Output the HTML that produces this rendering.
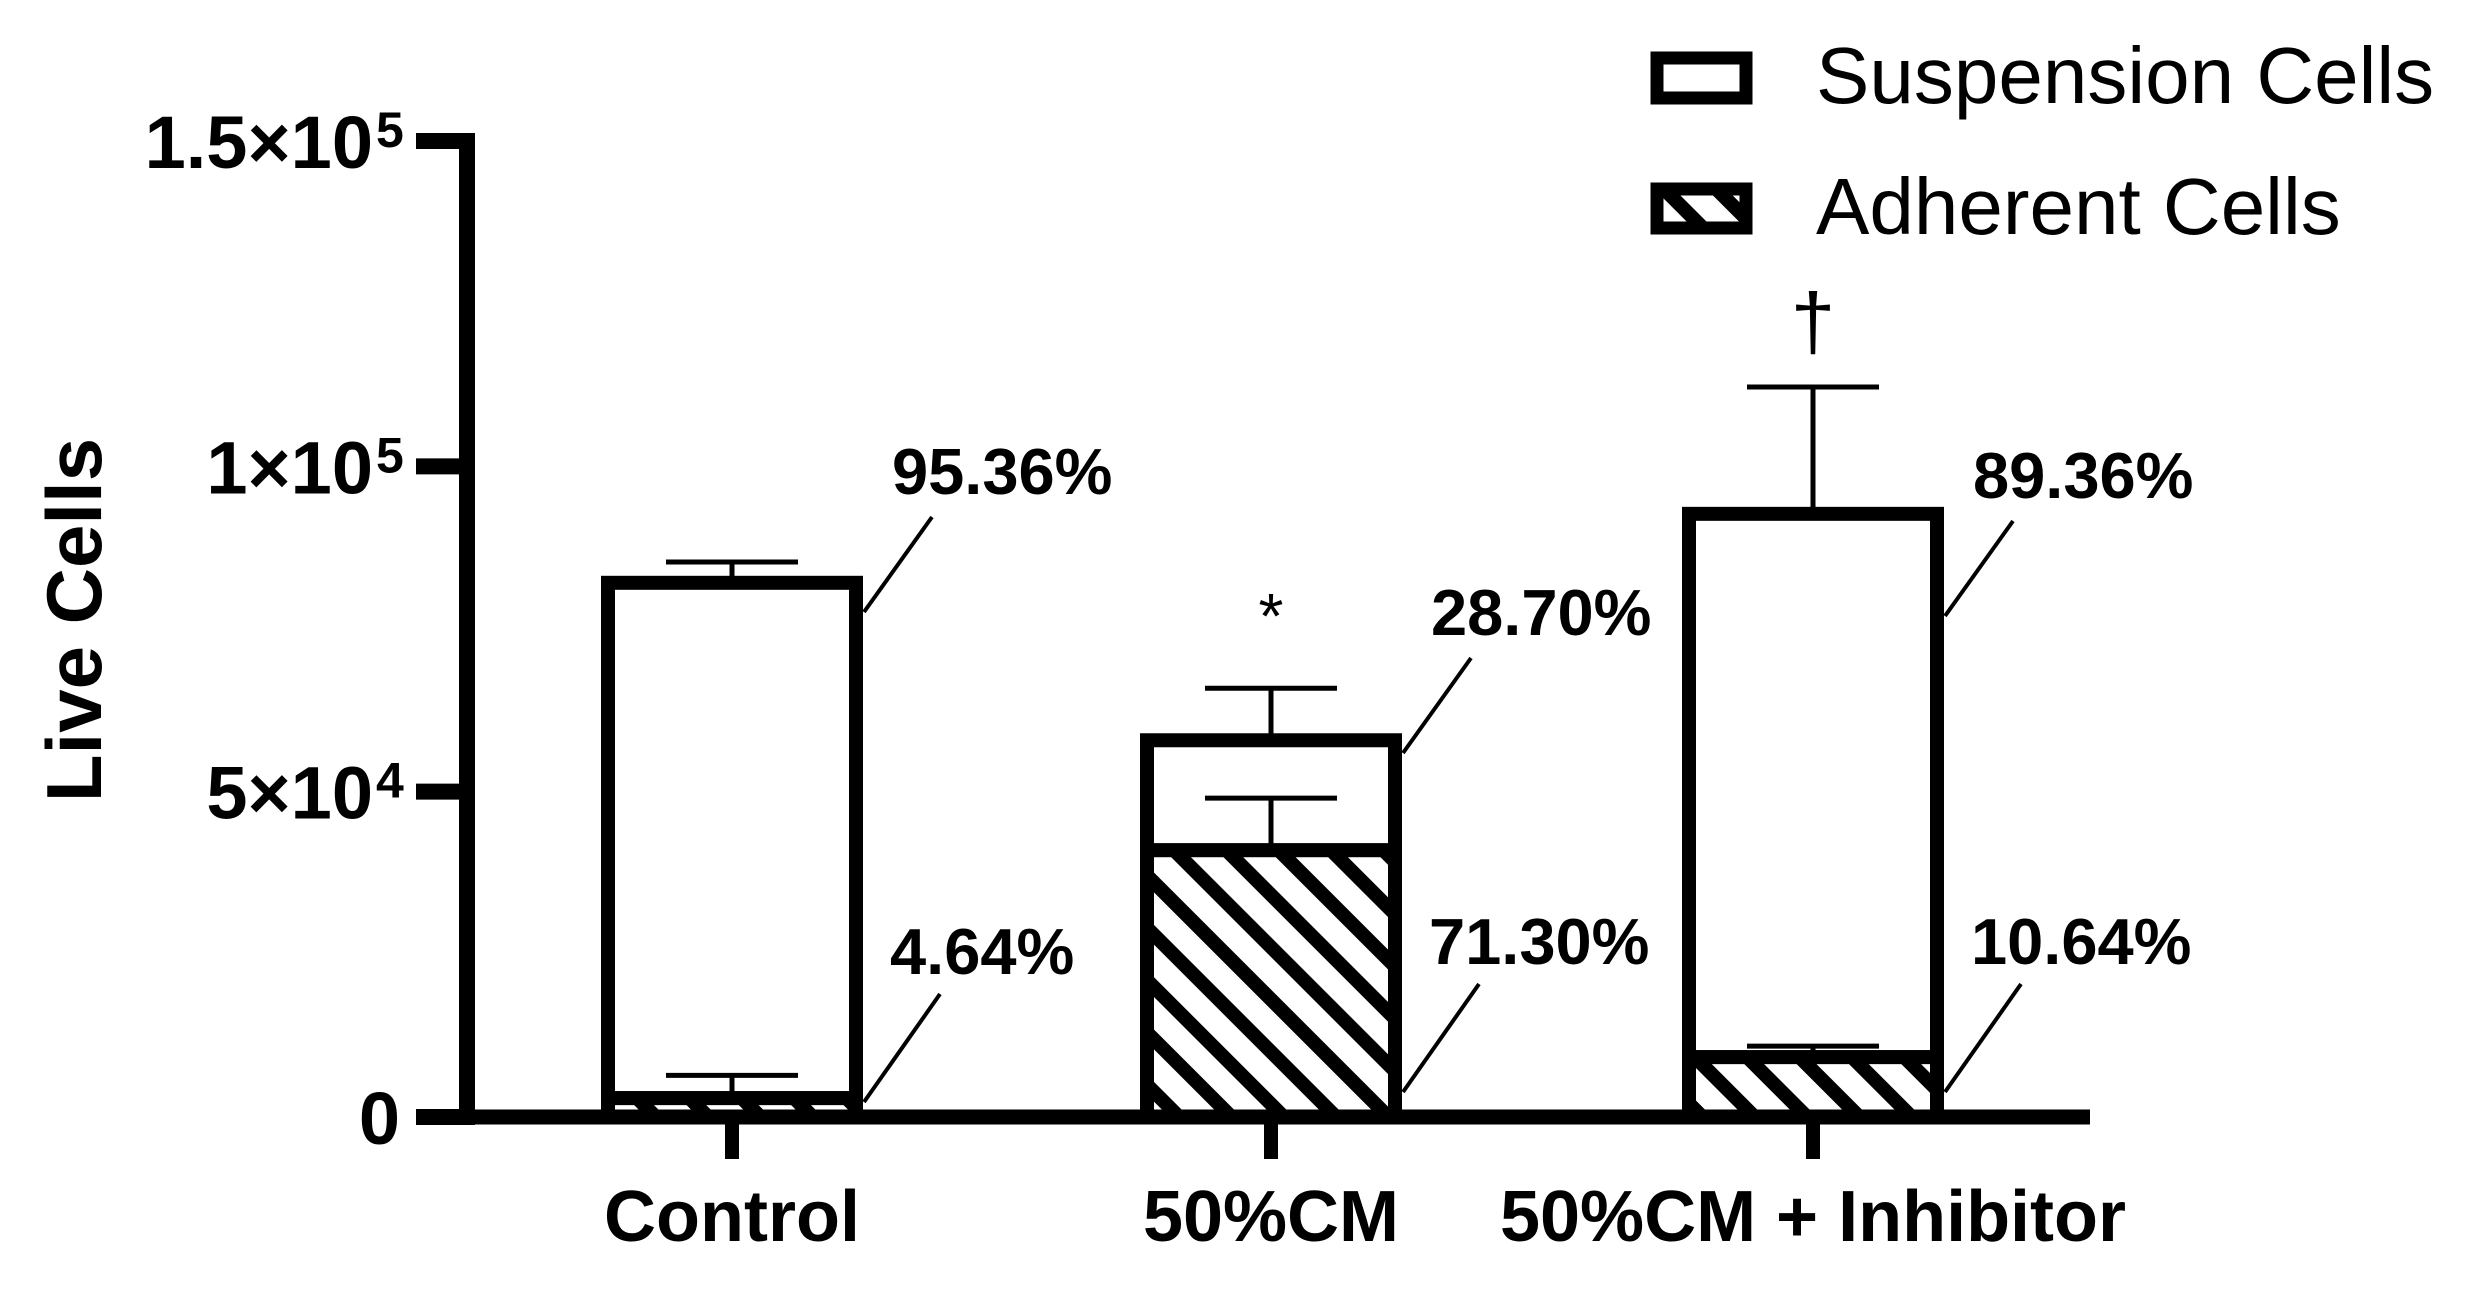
<!DOCTYPE html>
<html><head><meta charset="utf-8"><style>
html,body{margin:0;padding:0;background:#fff;}
svg{display:block;font-family:"Liberation Sans",Arial,sans-serif;}
</style></head><body>
<svg id="chart" width="2484" height="1297" viewBox="0 0 2484 1297">
<defs>
<pattern id="hatch" patternUnits="userSpaceOnUse" width="37" height="37" patternTransform="rotate(-45)">
<rect width="37" height="37" fill="#fff"/>
<rect x="0" y="0" width="14" height="37" fill="#000"/>
</pattern>
</defs>
</svg>
<script>
const categories = ["Control", "50%CM", "50%CM + Inhibitor"];
const adherent = [2900, 41000, 9200];
const adherentErr = [3500, 8000, 1700];
const suspension = [79200, 16900, 83500];
const totalErr = [3200, 8000, 19500];
const suspPct = ["95.36%", "28.70%", "89.36%"];
const adhPct = ["4.64%", "71.30%", "10.64%"];
const yTicks = [0, 50000, 100000, 150000];
const yTickBase = ["0", "5×10", "1×10", "1.5×10"];
const yTickExp = ["", "4", "5", "5"];
const marks = ["", "*", "†"];

const svg = document.getElementById('chart');
const NS = 'http://www.w3.org/2000/svg';
function mk(tag, attrs, parent){const e=document.createElementNS(NS,tag);for(const k in attrs)e.setAttribute(k,attrs[k]);(parent||svg).appendChild(e);return e;}
const y0=1117, yTop=141, yMax=150000;
function y(v){return y0-(v/yMax)*(y0-yTop);}
const xCenters=[732,1271,1813];
function x(i){return xCenters[i];}
const barW=248, capW=132;
// annotation leader start heights (layout, px)
const LEADER_SUSP_Y=[612,753,616];
const LEADER_ADH_Y=[1102,1092,1092];

let t=mk('text',{x:0,y:0,'font-size':78,'font-weight':'bold','text-anchor':'middle',transform:'translate(101,620) rotate(-90)'});
t.textContent='Live Cells';



yTicks.forEach((v,i)=>{
  const yy=y(v);
  const l=mk('line',{x1:416,x2:468,y1:yy,y2:yy,stroke:'#000','stroke-width':16});
  
  
  const tx=mk('text',{x:yTickExp[i]?373:400,y:yy+27,'font-size':74,'font-weight':'bold','text-anchor':'end'});
  tx.textContent=yTickBase[i];
  
  
  if(yTickExp[i]){
    const s=mk('text',{x:376,y:yy+6,'font-size':50,'font-weight':'bold','text-anchor':'start'});
    s.textContent=yTickExp[i];
    
    
  }
});

categories.forEach((c,i)=>{
  const cx=x(i), L=cx-barW/2, R=cx+barW/2;
  const adTop=y(adherent[i]), tot=adherent[i]+suspension[i], totTop=y(tot);
  let e=mk('line',{x1:cx,x2:cx,y1:totTop,y2:y(tot+totalErr[i]),stroke:'#000','stroke-width':5});
  
  
  e=mk('line',{x1:cx-capW/2,x2:cx+capW/2,y1:y(tot+totalErr[i]),y2:y(tot+totalErr[i]),stroke:'#000','stroke-width':5});
  
  
  let r=mk('rect',{x:L,y:totTop,width:barW,height:adTop-totTop,fill:'#fff',stroke:'#000','stroke-width':14});
  
  
  r=mk('rect',{x:L,y:adTop,width:barW,height:y0-adTop,fill:'url(#hatch)',stroke:'#000','stroke-width':14});
  
  
  e=mk('line',{x1:cx,x2:cx,y1:adTop,y2:y(adherent[i]+adherentErr[i]),stroke:'#000','stroke-width':5});
  
  
  e=mk('line',{x1:cx-capW/2,x2:cx+capW/2,y1:y(adherent[i]+adherentErr[i]),y2:y(adherent[i]+adherentErr[i]),stroke:'#000','stroke-width':5});
  
  
  const R2=R+8;
  let ly=LEADER_SUSP_Y[i];
  let ln=mk('line',{x1:R2,y1:ly,x2:R2+68,y2:ly-95,stroke:'#000','stroke-width':4});
  
  
  let pt=mk('text',{x:R+36,y:ly-118,'font-size':65,'font-weight':'bold'});
  pt.textContent=suspPct[i];
  
  
  ly=LEADER_ADH_Y[i];
  ln=mk('line',{x1:R2,y1:ly,x2:R2+76,y2:ly-108,stroke:'#000','stroke-width':4});
  
  
  pt=mk('text',{x:R+34,y:ly-128,'font-size':65,'font-weight':'bold'});
  pt.textContent=adhPct[i];
  
  
  let tk=mk('line',{x1:cx,x2:cx,y1:y0,y2:1159,stroke:'#000','stroke-width':14});
  
  
  let xl=mk('text',{x:cx,y:1241,'font-size':72,'font-weight':'bold','text-anchor':'middle'});
  xl.textContent=c;
  
  
  if(marks[i]){
    const m=mk('text',{x:cx,y:marks[i]==='*'?y(tot+totalErr[i])-50:y(tot+totalErr[i])-38,'font-size':marks[i]==='*'?64:80,'text-anchor':'middle'});
    m.textContent=marks[i];
    
    
  }
});

let ax=mk('line',{x1:467,x2:467,y1:133,y2:1125,stroke:'#000','stroke-width':16});


ax=mk('line',{x1:460,x2:2090,y1:y0,y2:y0,stroke:'#000','stroke-width':15});



let lg=mk('rect',{x:1657,y:58,width:89,height:40,fill:'#fff',stroke:'#000','stroke-width':13});


lg=mk('text',{x:1816,y:103,'font-size':80});
lg.textContent='Suspension Cells';


lg=mk('rect',{x:1657,y:189,width:89,height:39,fill:'url(#hatch)',stroke:'#000','stroke-width':13});


lg=mk('text',{x:1816,y:234,'font-size':80});
lg.textContent='Adherent Cells';


</script>
</body></html>
